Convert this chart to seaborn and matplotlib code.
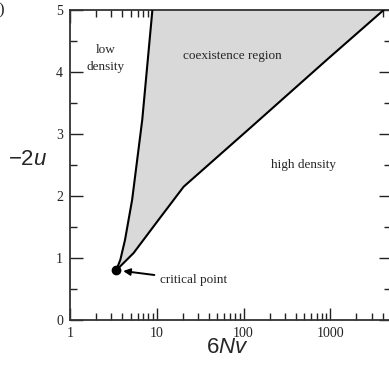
"""Phase diagram: coexistence region in the (6Nv, -2u) plane."""
import numpy as np
import pandas as pd
import matplotlib
matplotlib.use("Agg")
import matplotlib.pyplot as plt
import seaborn as sns

# boundary
left_x = [3.4, 3.8, 4.3, 5.2, 6.8, 8.9]
left_y = [0.8, 0.97, 1.29, 1.94, 3.23, 5.0]
right_x = [3.4, 5.4, 10.4, 20.4, 122.0, 900.0, 4120.0]
right_y = [0.8, 1.08, 1.61, 2.15, 3.11, 4.19, 5.0]
crit_x, crit_y = 3.4, 0.8

x_ticks = [1, 10, 100, 1000]
x_ticklabels = ["1", "10", "100", "1000"]
y_ticks = [0, 1, 2, 3, 4, 5]

sns.set_theme(style="ticks")
plt.rcParams["font.family"] = ["Liberation Serif", "DejaVu Serif"]
plt.rcParams["mathtext.fontset"] = "custom"
plt.rcParams["mathtext.rm"] = "Liberation Sans"
plt.rcParams["mathtext.it"] = "Liberation Sans:italic"

fig = plt.figure(figsize=(3.89, 3.68), dpi=100)
ax = fig.add_axes([0.18, 0.1304, 0.825, 0.8424])

# shaded coexistence region
poly_x = left_x + right_x[::-1]
poly_y = left_y + right_y[::-1]
ax.fill(poly_x, poly_y, color="#d9d9d9", zorder=1, lw=0)

left = pd.DataFrame({"x": left_x, "y": left_y})
right = pd.DataFrame({"x": right_x, "y": right_y})
sns.lineplot(data=left, x="x", y="y", sort=False, color="black", lw=1.5, ax=ax, zorder=3)
sns.lineplot(data=right, x="x", y="y", sort=False, color="black", lw=1.5, ax=ax, zorder=3)
ax.plot([crit_x], [crit_y], "o", color="black", ms=6, zorder=4)

ax.set_xscale("log")
ax.set_xlim(1, 5000)
ax.set_ylim(0, 5)
ax.set_xticks(x_ticks)
ax.set_xticklabels(x_ticklabels)
ax.set_yticks(y_ticks)
ax.yaxis.set_minor_locator(matplotlib.ticker.MultipleLocator(0.5))
ax.tick_params(which="both", direction="in", top=True, right=True,
               colors="#222222", labelsize=10, width=1.0)
ax.tick_params(which="major", length=9, pad=5)
ax.tick_params(which="minor", length=5)
for s in ax.spines.values():
    s.set_color("#333333")
    s.set_linewidth(1.3)

ax.set_xlabel("")
ax.set_ylabel("")
fig.text(0.584, 0.054, "$6\\mathit{Nv}$", fontsize=16, ha="center", va="center")
fig.text(0.072, 0.565, "$-2\\mathit{u}$", fontsize=16, ha="center", va="center")

ax.text(2.55, 4.22, "low\ndensity", fontsize=9.5, ha="center", va="center", linespacing=1.5)
ax.text(75, 4.26, "coexistence region", fontsize=9.5, ha="center", va="center")
ax.text(490, 2.5, "high density", fontsize=9.5, ha="center", va="center")
ax.annotate("critical point", xy=(4.1, 0.79), xytext=(11, 0.645),
            fontsize=9.5, va="center",
            arrowprops=dict(arrowstyle="-|>", color="black", lw=1.4,
                            mutation_scale=10, shrinkA=2, shrinkB=0))

fig.text(0.012, 0.995, "(b)", fontsize=12, ha="right", va="top")

fig.savefig("out.png", dpi=100)
